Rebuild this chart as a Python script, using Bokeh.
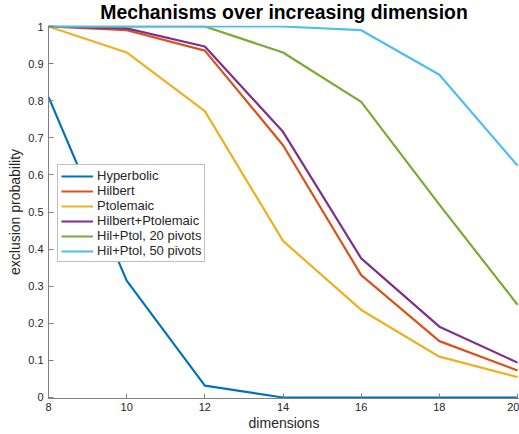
from bokeh.plotting import figure
from bokeh.models import FixedTicker, Legend, LegendItem, Range1d
from bokeh.embed import file_html
from bokeh.resources import INLINE

dims = [8, 10, 12, 14, 16, 18, 20]
hyperbolic = [0.81, 0.315, 0.032, 0.0, 0.0, 0.0, 0.0]
hilbert = [1.0, 0.99, 0.935, 0.68, 0.33, 0.152, 0.073]
ptolemaic = [1.0, 0.93, 0.772, 0.422, 0.236, 0.11, 0.055]
hil_ptol = [1.0, 0.995, 0.946, 0.716, 0.375, 0.191, 0.094]
hp20 = [1.0, 1.0, 1.0, 0.93, 0.797, 0.52, 0.25]
hp50 = [1.0, 1.0, 1.0, 1.0, 0.99, 0.87, 0.625]

names = ["Hyperbolic", "Hilbert", "Ptolemaic", "Hilbert+Ptolemaic",
         "Hil+Ptol, 20 pivots", "Hil+Ptol, 50 pivots"]
series = [hyperbolic, hilbert, ptolemaic, hil_ptol, hp20, hp50]
colors = ["#0072BD", "#D95319", "#EDB120", "#7E2F8E", "#77AC30", "#4DBEEE"]

x_ticks = [8, 10, 12, 14, 16, 18, 20]
y_ticks = [0, 0.1, 0.2, 0.3, 0.4, 0.5, 0.6, 0.7, 0.8, 0.9, 1]
title_text = "Mechanisms over increasing dimension"

FONT = "Liberation Sans"

p = figure(width=519, height=434, output_backend="svg", toolbar_location=None,
           x_range=Range1d(8, 20.05), y_range=Range1d(-0.0027, 1.0027),
           min_border_left=48, min_border_right=0, min_border_top=25,
           min_border_bottom=36)

p.title.text = title_text
p.title.align = "center"
p.title.vertical_align = "top"
p.title.text_font = FONT
p.title.text_font_size = "19.4px"
p.title.text_font_style = "bold"
p.title.text_color = "black"
p.title.standoff = 1
p.title.offset = 0

p.xgrid.visible = False
p.ygrid.visible = False
p.outline_line_color = None
p.background_fill_color = "white"
p.border_fill_color = "white"

for ax in (p.xaxis[0], p.yaxis[0]):
    ax.major_tick_in = 5
    ax.major_tick_out = 0
    ax.minor_tick_in = 0
    ax.minor_tick_out = 0
    ax.axis_line_color = "#808080"
    ax.major_tick_line_color = "#808080"
    ax.major_label_text_font = FONT
    ax.major_label_text_font_size = "11px"
    ax.major_label_text_color = "#262626"
    ax.axis_label_text_font = FONT
    ax.axis_label_text_font_size = "14px"
    ax.axis_label_text_font_style = "normal"
    ax.axis_label_text_color = "#262626"

p.xaxis[0].ticker = FixedTicker(ticks=x_ticks)
p.yaxis[0].ticker = FixedTicker(ticks=y_ticks)
p.yaxis[0].major_label_overrides = {0: "0", 1: "1"}
p.xaxis[0].axis_label = "dimensions"
p.yaxis[0].axis_label = "exclusion probability"
p.xaxis[0].major_label_standoff = 4
p.yaxis[0].major_label_standoff = 5
p.xaxis[0].axis_label_standoff = 1
p.yaxis[0].axis_label_standoff = 2

items = []
for name, ys, c in zip(names, series, colors):
    r = p.line(dims, ys, line_color=c, line_width=2.2)
    items.append(LegendItem(label=name, renderers=[r]))

legend = Legend(items=items, location=(9, 136))
legend.label_text_font = FONT
legend.label_text_font_size = "13px"
legend.label_text_color = "#262626"
legend.glyph_width = 32
legend.glyph_height = 14
legend.label_height = 14
legend.spacing = 0
legend.padding = 3
legend.margin = 0
legend.label_standoff = 4
legend.border_line_color = "#808080"
legend.border_line_width = 1
legend.background_fill_alpha = 1
p.add_layout(legend, "center")

open("out.html", "w").write(file_html(p, INLINE))
